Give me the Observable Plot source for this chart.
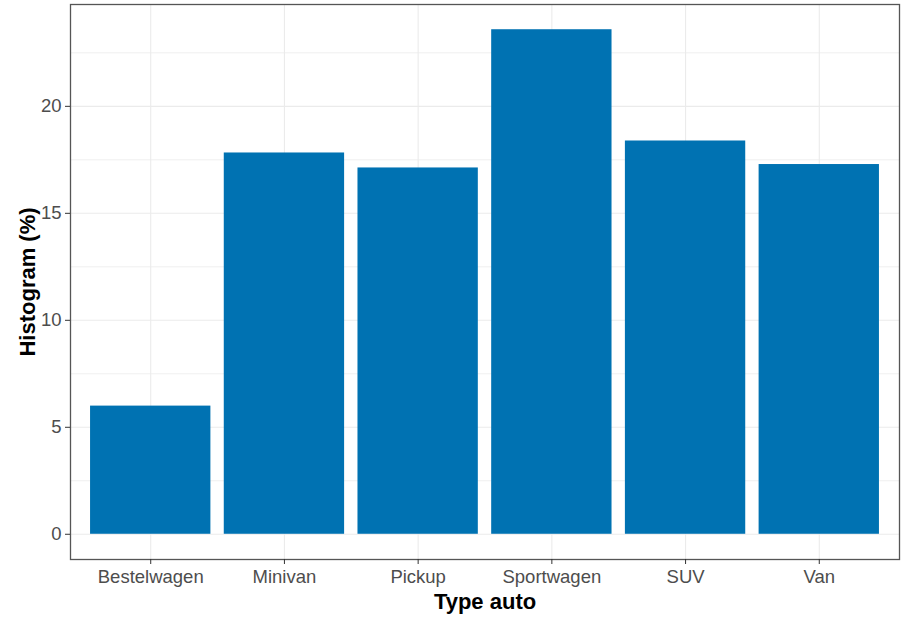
<!DOCTYPE html>
<html>
<head>
<meta charset="utf-8">
<script src="https://cdn.jsdelivr.net/npm/d3@7"></script>
<script src="https://cdn.jsdelivr.net/npm/@observablehq/plot@0.6"></script>
<style>
  html, body { margin: 0; padding: 0; background: #fff; }
  #chart svg { display: block; }
</style>
</head>
<body>
<div id="chart"></div>
<script>
const categories = ["Bestelwagen", "Minivan", "Pickup", "Sportwagen", "SUV", "Van"];
const percentages = [5.99, 17.82, 17.12, 23.58, 18.38, 17.28];
const yTicks = [0, 5, 10, 15, 20];
const yMinor = [2.5, 7.5, 12.5, 17.5, 22.5];
const xTitle = "Type auto";
const yTitle = "Histogram (%)";

const data = categories.map((c, i) => ({type: c, pct: percentages[i]}));
const yMax = d3.max(percentages);
const yDomain = [-0.05 * yMax, yMax + 0.05 * yMax];

const font = "'Liberation Sans', Arial, sans-serif";

const chart = Plot.plot({
  width: 906,
  height: 617,
  marginLeft: 70,
  marginRight: 7,
  marginTop: 4,
  marginBottom: 58,
  style: {fontFamily: font, background: "#ffffff"},
  x: {type: "band", domain: categories, paddingInner: 0.1, paddingOuter: 0.15, round: false},
  y: {domain: yDomain},
  marks: [
    Plot.gridY(yMinor, {stroke: "#ebebeb", strokeOpacity: 1, strokeWidth: 0.8}),
    Plot.gridY(yTicks, {stroke: "#ebebeb", strokeOpacity: 1, strokeWidth: 1.1}),
    Plot.gridX(categories, {stroke: "#ebebeb", strokeOpacity: 1, strokeWidth: 1.1}),
    Plot.barY(data, {x: "type", y: "pct", fill: "#0072B2"}),
    Plot.frame({stroke: "#555555", strokeWidth: 1.3}),
    Plot.axisY(yTicks, {
      tickSize: 5, tickPadding: 4, fontSize: 18.5, color: "#4d4d4d",
      stroke: "#333333", label: null
    }),
    Plot.axisX(categories, {
      tickSize: 5, tickPadding: 5, fontSize: 18.5, color: "#4d4d4d",
      stroke: "#333333", label: null
    }),
    Plot.text([xTitle], {
      frameAnchor: "bottom", dy: 49, fontSize: 22, fontWeight: "bold",
      fill: "#000000", textAnchor: "middle"
    }),
    Plot.text([yTitle], {
      frameAnchor: "left", dx: -43, rotate: -90, fontSize: 22, fontWeight: "bold",
      fill: "#000000", textAnchor: "middle"
    })
  ]
});

document.getElementById("chart").appendChild(chart);
</script>
</body>
</html>
